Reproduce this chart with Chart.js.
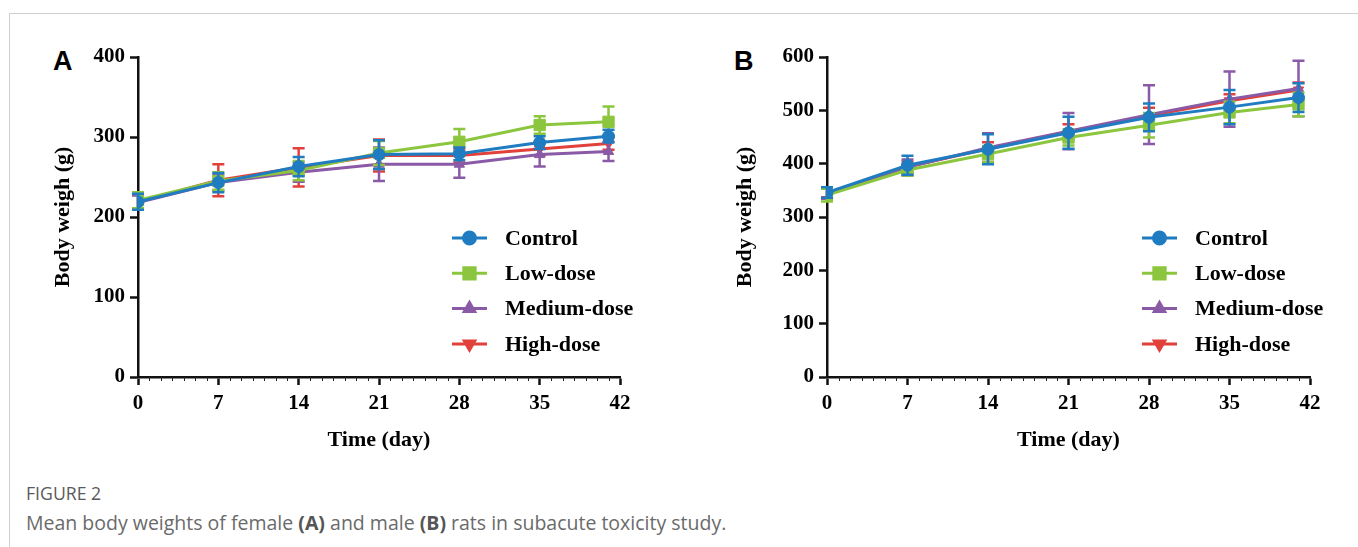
<!DOCTYPE html>
<html>
<head>
<meta charset="utf-8">
<script src="https://cdn.jsdelivr.net/npm/chart.js@4.4.1/dist/chart.umd.min.js"></script>
<style>
  html, body { margin: 0; padding: 0; background: #fff; }
  body { width: 1358px; height: 547px; position: relative; overflow: hidden; }
  .frame-top { position: absolute; left: 9px; top: 13px; width: 1349px; height: 1px; background: #cfcfcf; }
  .frame-left { position: absolute; left: 9px; top: 13px; width: 1px; height: 534px; background: #cfcfcf; }
  .wrap { position: absolute; top: 20px; width: 640px; height: 440px; }
  .panel { position: absolute; font-family: "Liberation Sans", Arial, sans-serif; font-weight: bold; font-size: 27px; color: #000; line-height: 1; }
  .cap1 { position: absolute; left: 26px; top: 480px; font-family: "Open Sans", sans-serif; font-size: 19px; color: #5a5a5a; transform: scaleX(0.93); transform-origin: left center; }
  .cap2 { position: absolute; left: 26px; top: 509px; font-family: "Open Sans", sans-serif; font-size: 19.5px; color: #6a6a6a; white-space: nowrap; }
  .cap2 b { color: #555; }
</style>
</head>
<body>
<div class="frame-top"></div>
<div class="frame-left"></div>
<div class="panel" style="left:53px; top:48px;">A</div>
<div class="panel" style="left:734px; top:48px;">B</div>
<div class="wrap" style="left:20px;"><canvas id="chartA" width="640" height="440"></canvas></div>
<div class="wrap" style="left:710px;"><canvas id="chartB" width="640" height="440"></canvas></div>
<div class="cap1">FIGURE 2</div>
<div class="cap2">Mean body weights of female <b>(A)</b> and male <b>(B)</b> rats in subacute toxicity study.</div>

<script>
// ---------- data ----------
const days = [0, 7, 14, 21, 28, 35, 41];
const xTickLabels = [0, 7, 14, 21, 28, 35, 42];
const seriesNames = ["Control", "Low-dose", "Medium-dose", "High-dose"];

// Panel A (female)
const controlA   = [219, 243, 263, 278, 279, 293, 301];
const controlAsd = [10, 12, 12, 18, 8, 8, 8];
const lowA       = [221, 245, 258, 280, 294, 315, 319];
const lowAsd     = [10, 11, 12, 15, 16, 11, 19];
const mediumA    = [218, 243, 256, 266, 266, 278, 282];
const mediumAsd  = [9, 10, 12, 21, 17, 15, 12];
const highA      = [219, 246, 262, 277, 277, 285, 292];
const highAsd    = [10, 20, 24, 20, 9, 8, 8];
const yTicksA    = [0, 100, 200, 300, 400];

// Panel B (male)
const controlB   = [346, 397, 427, 458, 487, 506, 524];
const controlBsd = [10, 18, 28, 30, 26, 32, 27];
const lowB       = [341, 388, 418, 449, 472, 496, 511];
const lowBsd     = [12, 10, 15, 15, 23, 20, 22];
const mediumB    = [344, 393, 430, 461, 492, 521, 541];
const mediumBsd  = [10, 15, 27, 34, 55, 52, 52];
const highB      = [345, 394, 428, 460, 490, 518, 538];
const highBsd    = [8, 10, 12, 14, 15, 12, 14];
const yTicksB    = [0, 100, 200, 300, 400, 500, 600];

// ---------- styles ----------
const colors = ["#1f7cc1", "#8cc63e", "#8a5aa6", "#e2413b"];
const pStyles = ["circle", "rect", "triangle", "triangle"];
const pRot = [0, 0, 0, 180];
const pRad = [6, 8, 6, 6];
const serif = "'Liberation Serif', 'Times New Roman', serif";

function makeDatasets(means, sds) {
  return means.map((m, i) => ({
    label: seriesNames[i],
    data: days.map((d, j) => ({ x: d, y: m[j] })),
    sd: sds[i],
    borderColor: colors[i],
    backgroundColor: colors[i],
    borderWidth: 3,
    pointStyle: pStyles[i],
    pointRotation: pRot[i],
    pointRadius: pRad[i],
    pointHoverRadius: pRad[i],
    pointBorderWidth: 1,
    tension: 0,
    fill: false
  }));
}

const errorBars = {
  id: 'errorBars',
  beforeDatasetDraw(chart, args) {
    const ds = chart.data.datasets[args.index];
    const meta = args.meta;
    const ys = chart.scales.y;
    const ctx = chart.ctx;
    ctx.save();
    ctx.strokeStyle = ds.borderColor;
    ctx.lineWidth = 2.5;
    meta.data.forEach((pt, j) => {
      const v = ds.data[j].y, s = ds.sd[j];
      const x = pt.x;
      const yt = ys.getPixelForValue(v + s);
      const yb = ys.getPixelForValue(v - s);
      ctx.beginPath();
      ctx.moveTo(x, yt); ctx.lineTo(x, yb);
      ctx.moveTo(x - 6, yt); ctx.lineTo(x + 6, yt);
      ctx.moveTo(x - 6, yb); ctx.lineTo(x + 6, yb);
      ctx.stroke();
    });
    ctx.restore();
  }
};

const minorTicks = {
  id: 'minorTicks',
  afterDraw(chart) {
    const xs = chart.scales.x;
    const ctx = chart.ctx;
    const y0 = chart.chartArea.bottom;
    ctx.save();
    ctx.strokeStyle = '#222';
    ctx.lineWidth = 1;
    for (let d = xs.min; d <= xs.max; d++) {
      if (d % 7 === 0) continue;
      const x = Math.round(xs.getPixelForValue(d)) + 0.5;
      ctx.beginPath(); ctx.moveTo(x, y0); ctx.lineTo(x, y0 + 4); ctx.stroke();
    }
    ctx.restore();
  }
};

const customLegend = {
  id: 'customLegend',
  afterDraw(chart, args, opts) {
    const ctx = chart.ctx;
    ctx.save();
    chart.data.datasets.forEach((ds, i) => {
      const y = opts.y0 + i * opts.step;
      ctx.strokeStyle = ds.borderColor;
      ctx.lineWidth = 3;
      ctx.beginPath(); ctx.moveTo(opts.x0, y); ctx.lineTo(opts.x1, y); ctx.stroke();
      ctx.fillStyle = ds.backgroundColor;
      Chart.helpers.drawPoint(ctx, {
        pointStyle: ds.pointStyle, rotation: ds.pointRotation,
        radius: ds.pointRadius, borderWidth: 1
      }, (opts.x0 + opts.x1) / 2, y);
      ctx.fillStyle = '#000';
      ctx.font = "bold 22px " + serif;
      ctx.textBaseline = 'middle';
      ctx.textAlign = 'left';
      ctx.fillText(ds.label, opts.tx, y + 1);
    });
    ctx.restore();
  }
};

function makeChart(id, means, sds, yTicks, ymax, yTitlePad, yAxisW) {
  return new Chart(document.getElementById(id), {
    type: 'line',
    data: { datasets: makeDatasets(means, sds) },
    plugins: [errorBars, minorTicks, customLegend],
    options: {
      responsive: false,
      animation: false,
      events: [],
      layout: { padding: { top: 37, right: 40, left: 0, bottom: 0 } },
      plugins: {
        legend: { display: false },
        tooltip: { enabled: false },
        customLegend: { x0: 432, x1: 467, tx: 485, y0: 218, step: 35.3 }
      },
      scales: {
        x: {
          type: 'linear', min: 0, max: 42,
          afterFit(s) { s.height = 83; },
          afterBuildTicks(s) { s.ticks = xTickLabels.map(v => ({ value: v })); },
          ticks: { color: '#000', font: { family: serif, size: 21, weight: 'bold' }, padding: 6, maxRotation: 0 },
          grid: { display: true, drawOnChartArea: false, drawTicks: true, tickLength: 8, tickWidth: 2.5, tickColor: '#111' },
          border: { display: true, color: '#111', width: 2.5 },
          title: { display: true, text: 'Time (day)', color: '#000',
                   font: { family: serif, size: 22, weight: 'bold' }, padding: { top: 0, bottom: 6 } }
        },
        y: {
          type: 'linear', min: 0, max: ymax,
          afterFit(s) { s.width = yAxisW; },
          afterBuildTicks(s) { s.ticks = yTicks.map(v => ({ value: v })); },
          ticks: { color: '#000', font: { family: serif, size: 21, weight: 'bold' }, padding: 5 },
          grid: { display: true, drawOnChartArea: false, drawTicks: true, tickLength: 8, tickWidth: 2.5, tickColor: '#111' },
          border: { display: true, color: '#111', width: 2.5 },
          title: { display: true, text: 'Body weigh (g)', color: '#000',
                   font: { family: serif, size: 22, weight: 'bold' }, padding: { top: yTitlePad, bottom: 0 } }
        }
      }
    }
  });
}

makeChart('chartA', [controlA, lowA, mediumA, highA], [controlAsd, lowAsd, mediumAsd, highAsd], yTicksA, 400, 30, 118);
makeChart('chartB', [controlB, lowB, mediumB, highB], [controlBsd, lowBsd, mediumBsd, highBsd], yTicksB, 600, 22, 117);
</script>
</body>
</html>
